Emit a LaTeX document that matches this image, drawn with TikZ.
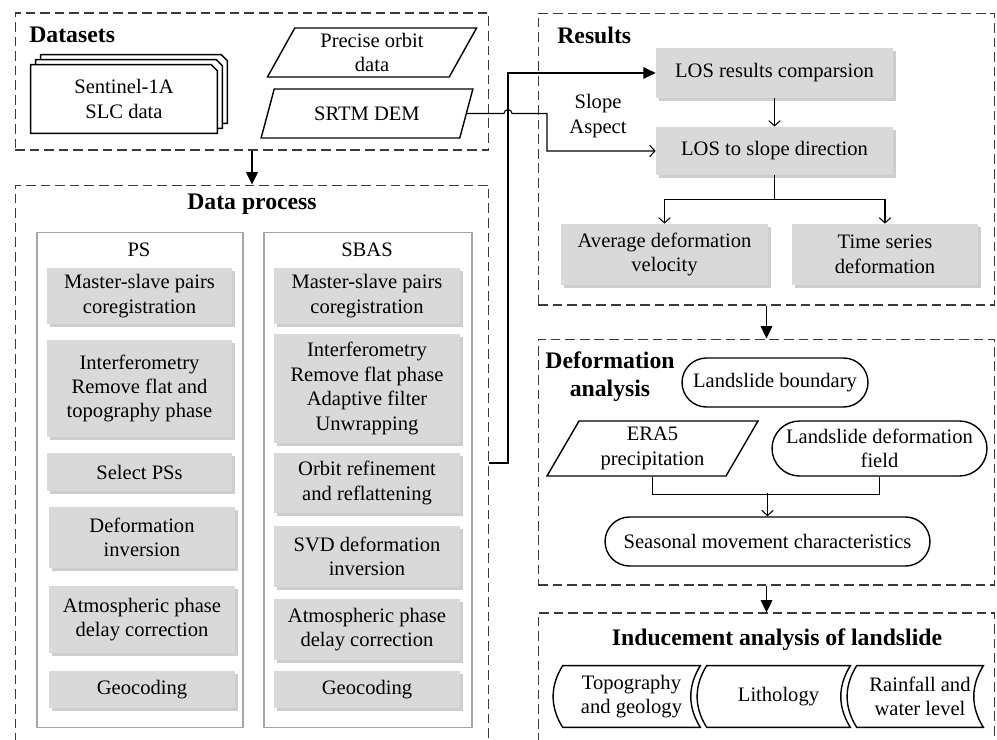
\documentclass[tikz,border=0pt]{standalone}
\usepackage{fontspec}
\setmainfont{Liberation Serif}
\usetikzlibrary{calc,arrows.meta,shapes.geometric,shadows,backgrounds}
\definecolor{boxg}{HTML}{D9D9D9}
\definecolor{pnlc}{HTML}{A6A6A6}
\definecolor{dshc}{HTML}{3A3A3A}
\newcommand{\nfont}{\fontsize{11.7}{13.9}\selectfont}
\newcommand{\tfont}{\fontsize{13.5}{16}\selectfont\bfseries}
\tikzset{
  dbox/.style={draw=dshc,line width=0.6pt,dash pattern=on 5.5pt off 2.8pt,inner sep=0pt},
  gb/.style={fill=boxg,align=center,inner sep=1pt,drop shadow={shadow xshift=1.8pt,shadow yshift=-1.8pt,fill=black!35,opacity=0.55}},
  pnl/.style={draw=pnlc,line width=0.6pt,inner sep=0pt},
  para/.style={trapezium,trapezium left angle=66,trapezium right angle=114,trapezium stretches=true,draw,line width=0.8pt,align=center,inner sep=1pt},
  pill/.style={rectangle,rounded corners=#1,draw,line width=0.8pt,align=center,inner sep=1pt},
  pill/.default=0.49cm,
  ttl/.style={font=\tfont,align=center,inner sep=0pt},
  ar/.style={-{Triangle[length=7pt,width=6.5pt]},line width=1.1pt},
  tn/.style={-{Straight Barb[length=3pt,width=6.5pt]},line width=0.6pt},
  ln/.style={line width=0.6pt}
}

\begin{document}
\begin{tikzpicture}[x=0.02cm,y=-0.02cm,font=\nfont]
\clip (0,0) rectangle (997,740);
\node[dbox,minimum width=9.48cm,minimum height=2.74cm] (dset) at (252,81.5) {};
\node[dbox,minimum width=9.48cm,minimum height=11.5cm] (dproc) at (252,472.5) {};
\node[dbox,minimum width=9.14cm,minimum height=5.84cm] (res) at (766.5,159) {};
\node[dbox,minimum width=9.14cm,minimum height=4.92cm] (def) at (766.5,462) {};
\node[dbox,minimum width=9.14cm,minimum height=2.94cm] (ind) at (766.5,686.5) {};
\node[ttl,anchor=west] (tdset) at (29,35) {Datasets};
\node[ttl,anchor=west] (tres) at (557,35) {Results};
\node[ttl] (tdproc) at (252,204) {Data process};
\node[ttl] (tdef) at (610,377) {Deformation\\analysis};
\node[ttl] (tind) at (777,640) {Inducement analysis of landslide};

\node[minimum width=3.72cm,minimum height=1.36cm,align=center,inner sep=0pt] (s1a) at (124,99) {Sentinel-1A\\SLC data};
\begin{scope}[on background layer]
\foreach \o in {10,5,0}
  \draw[line width=0.8pt,fill=white] ($(s1a.south west)+(\o,-\o)$) -- ($(s1a.north west)+(\o,-\o)$) -- ($(s1a.north east)+(\o-6,-\o)$) -- ($(s1a.north east)+(\o,6-\o)$) -- ($(s1a.south east)+(\o,-\o)$) -- cycle;
\end{scope}
\node[para,minimum width=4.2cm,minimum height=0.98cm] (orb) at (372,52.5) {Precise orbit\\data};
\node[para,minimum width=4.24cm,minimum height=0.98cm] (srtm) at (367,113.5) {SRTM DEM};

\node[pnl,minimum width=4.12cm,minimum height=9.92cm] (pspnl) at (140,480) {};
\node[pnl,minimum width=4.16cm,minimum height=9.92cm] (sbpnl) at (368,480) {};
\node (pslab) at (139,250) {PS};
\node (sblab) at (367,250) {SBAS};
\node[gb,minimum width=3.7cm,minimum height=1.12cm] (ps1) at (139.5,296) {Master-slave pairs\\coregistration};
\node[gb,minimum width=3.7cm,minimum height=1.94cm] (ps2) at (139.5,388.5) {Interferometry\\Remove flat and\\topography phase};
\node[gb,minimum width=3.7cm,minimum height=0.76cm] (ps3) at (139.5,472) {Select PSs};
\node[gb,minimum width=3.72cm,minimum height=1.22cm] (ps4) at (142,537.5) {Deformation\\inversion};
\node[gb,minimum width=3.72cm,minimum height=1.34cm] (ps5) at (142,619.5) {Atmospheric phase\\delay correction};
\node[gb,minimum width=3.72cm,minimum height=0.74cm] (ps6) at (142,689.5) {Geocoding};
\node[gb,minimum width=3.72cm,minimum height=1.12cm] (sb1) at (367,296) {Master-slave pairs\\coregistration};
\node[gb,minimum width=3.72cm,minimum height=2.18cm] (sb2) at (367,388.5) {Interferometry\\Remove flat phase\\Adaptive filter\\Unwrapping};
\node[gb,minimum width=3.72cm,minimum height=1.2cm] (sb3) at (367,483) {Orbit refinement\\and reflattening};
\node[gb,minimum width=3.72cm,minimum height=1.22cm] (sb4) at (367,556.5) {SVD deformation\\inversion};
\node[gb,minimum width=3.72cm,minimum height=1.22cm] (sb5) at (367,629.5) {Atmospheric phase\\delay correction};
\node[gb,minimum width=3.72cm,minimum height=0.74cm] (sb6) at (367,689.5) {Geocoding};

\node[gb,minimum width=4.74cm,minimum height=1cm] (losr) at (774.5,73) {LOS results comparsion};
\node[gb,minimum width=4.74cm,minimum height=0.96cm] (loss) at (774.5,151) {LOS to slope direction};
\node[gb,minimum width=4.14cm,minimum height=1.22cm] (avg) at (664.5,254.5) {Average deformation\\velocity};
\node[gb,minimum width=3.72cm,minimum height=1.22cm] (tsd) at (885,254.5) {Time series\\deformation};
\node[align=center,inner sep=0pt] (slab) at (598,116) {Slope\\Aspect};

\node[pill,minimum width=3.72cm,minimum height=0.98cm] (lbd) at (775,382.5) {Landslide boundary};
\node[para,trapezium left angle=63,trapezium right angle=117,minimum width=4.26cm,minimum height=1.1cm] (era) at (652.5,448.5) {ERA5\\precipitation};
\node[pill=0.55cm,minimum width=4.3cm,minimum height=1.1cm] (ldf) at (879.5,448.5) {Landslide deformation\\field};
\node[pill,minimum width=6.5cm,minimum height=0.98cm] (smc) at (767.5,541.5) {Seasonal movement characteristics};

\node[minimum width=2.74cm,minimum height=1.22cm,align=center] (topo) at (631.5,696.5) {Topography\\and geology};
\node[minimum width=2.86cm,minimum height=1.22cm,align=center] (lith) at (778.5,696.5) {Lithology};
\node[minimum width=2.52cm,minimum height=1.22cm,align=center] (rain) at (920,696.5) {Rainfall and\\water level};
\foreach \n in {topo,lith,rain}
  \draw[line width=0.8pt] (\n.north west) to[bend right=32] (\n.south west) -- (\n.south east) to[bend left=32] (\n.north east) -- cycle;

\draw[ar] (dset.south) -- (dproc.north);
\draw[ar] (res.south) -- (def.north);
\draw[ar] (def.south) -- (ind.north);
\draw[ar] ($(dproc.north east)+(0,278)$) -| ($(losr.west)+(-148,0)$) -- (losr.west);
\draw[tn] (srtm.east) -- (504,113.5) arc[start angle=180,end angle=0,radius=0.08cm] -- (547,113.5) |- (loss.west);
\draw[tn] (losr) -- (loss);
\draw[tn] (loss.south) -- ++(0,24) -| (avg.north);
\draw[tn] (loss.south) -- ++(0,24) -| (tsd.north);
\draw[ln] (era.south -| era.center) -- ++(0,18) -| (ldf.south);
\draw[tn] ($(smc.north)+(0,-23)$) -- (smc.north);
\end{tikzpicture}
\end{document}
